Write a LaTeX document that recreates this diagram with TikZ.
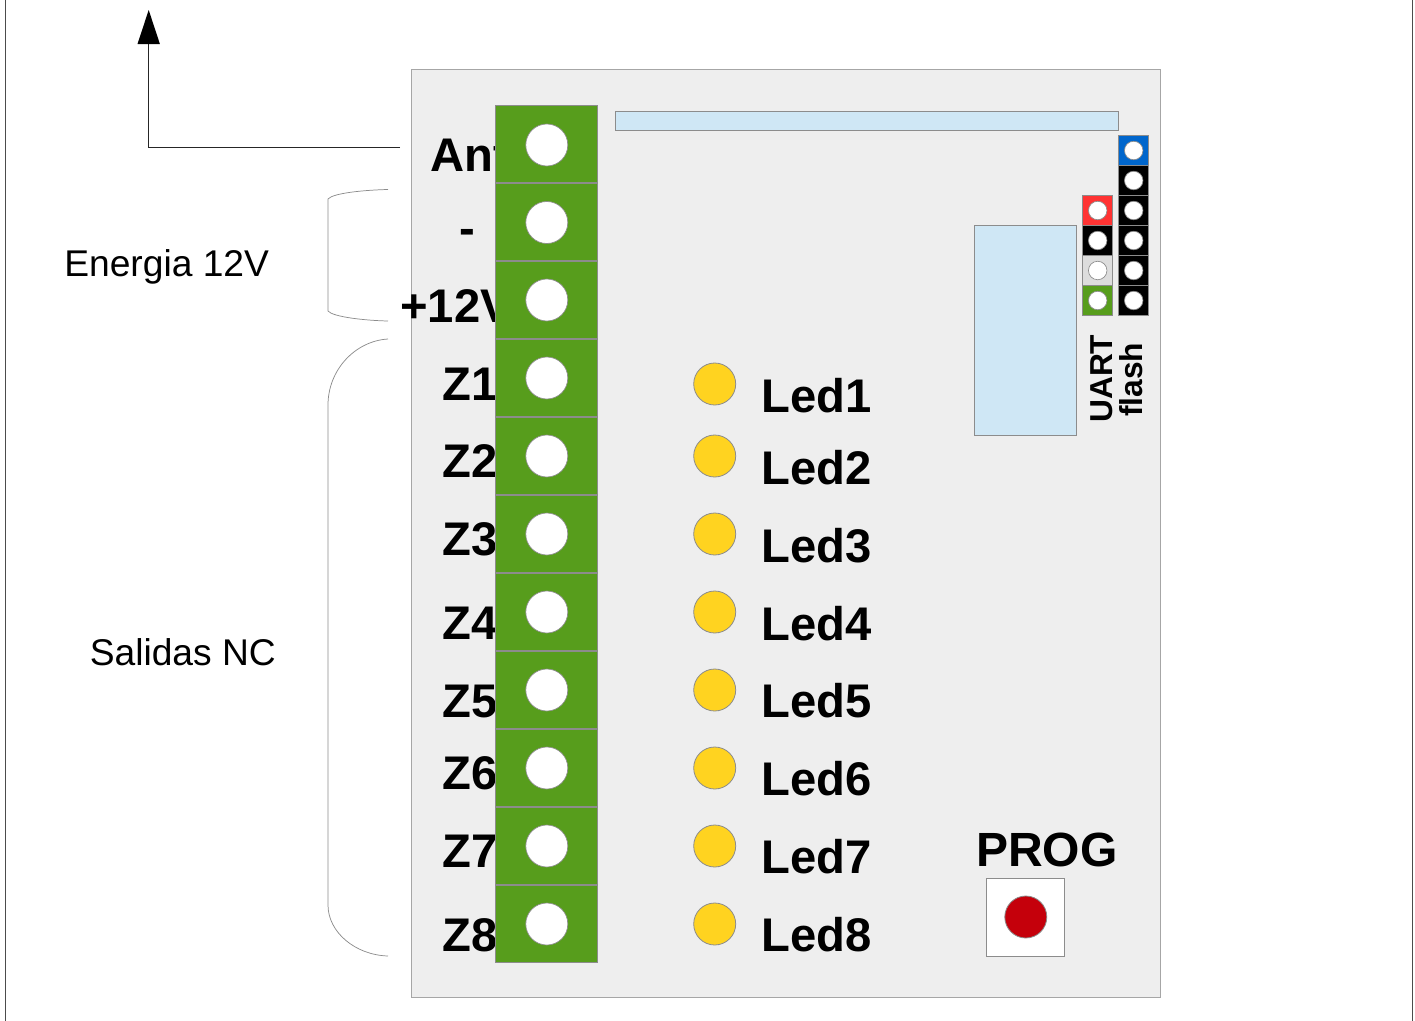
\documentclass[tikz,border=0pt]{standalone}
\usepackage{fontspec}
\setmainfont{Liberation Sans}
\definecolor{boardfill}{HTML}{EEEEEE}
\definecolor{edgegrey}{HTML}{8C8C8C}
\definecolor{boardedge}{HTML}{A6A6A6}
\definecolor{termgreen}{HTML}{579D1C}
\definecolor{paleblue}{HTML}{CFE7F5}
\definecolor{ledyellow}{HTML}{FFD320}
\definecolor{pinblue}{HTML}{0066CC}
\definecolor{pinred}{HTML}{FF3333}
\definecolor{pinlight}{HTML}{DDDDDD}
\definecolor{btnred}{HTML}{C5000B}
\tikzset{
  x=0.75pt,y=-0.75pt,
  part/.style={draw=edgegrey,line width=0.55pt},
  hole/.style={circle,draw=edgegrey,fill=white,line width=0.5pt,minimum size=#1*0.75pt,inner sep=0pt},
  led/.style={circle,draw=edgegrey,fill=ledyellow,line width=0.6pt,minimum size=42*0.75pt,inner sep=0pt},
  biglabel/.style={font=\fontsize{35.4}{40}\selectfont\bfseries,anchor=base west,inner sep=0pt},
  smalllabel/.style={font=\fontsize{23.8}{28}\selectfont\bfseries,anchor=base west,inner sep=0pt,rotate=90},
  notelabel/.style={font=\fontsize{27.9}{32}\selectfont,anchor=base west,inner sep=0pt},
  bracket/.style={draw=edgegrey,line width=0.55pt},
}
\begin{document}
\begin{tikzpicture}
\useasboundingbox (0,0) rectangle (1415,1021);
% page frame
\draw[color=black!70,line width=0.9pt] (5.5,0) -- (5.5,1021);
\draw[color=black!70,line width=0.9pt] (1412.5,0) -- (1412.5,1021);
% board
\fill[boardfill] (411.9,69.9) rectangle (1160.9,997.9);
\draw[boardedge,line width=0.75pt] (411.9,69.9) rectangle (1160.9,997.9);
% terminal labels (overlapped by the terminal block)
\node[biglabel] (lant) at (430,171.5) {Ant};
\node[biglabel] (lminus) at (459,244.5) {-};
\node[biglabel] (lv) at (400,322) {+12V};
\foreach \n/\y in {1/400,2/477.5,3/555.5,4/639.5,5/717,6/789.5,7/867,8/951}
  \node[biglabel] (lz\n) at (442,\y) {Z\n};
% terminal block
\foreach \i/\t/\c in {0/105/145,1/183/222.5,2/261/300,3/339/378,4/417/456,5/495/534,6/573/612,7/651/690,8/729/768,9/807/846,10/885/924}{
  \draw[part,fill=termgreen] (495.7,\t) rectangle (597.7,\t+77.4);
  \node[hole=42] (t\i) at (546.8,\c) {};
}
% bars
\draw[part,fill=paleblue] (615.5,111.5) rectangle (1118.5,130);
\draw[part,fill=paleblue] (974.8,225.5) rectangle (1076.8,435);
% flash header
\foreach \i/\t/\c in {0/135.5/pinblue,1/165.5/black,2/195.5/black,3/225.5/black,4/255.5/black,5/285.5/black}{
  \draw[part,fill=\c] (1118.7,\t) rectangle (1148.7,\t+30);
  \node[hole=18.5] (f\i) at (1133.7,\t+15) {};
}
% uart header
\foreach \i/\t/\c in {0/195.5/pinred,1/225.5/black,2/255.5/pinlight,3/285.5/termgreen}{
  \draw[part,fill=\c] (1082.7,\t) rectangle (1112.7,\t+30);
  \node[hole=18.5] (u\i) at (1097.7,\t+15) {};
}
\node[smalllabel] (uart) at (1112.2,423) {UART};
\node[smalllabel] (flash) at (1142.2,417) {flash};
% leds
\foreach \n/\yc/\yb in {1/384/412,2/456/484,3/534/562,4/612/640,5/690/717,6/768/795,7/846/873,8/924/951}{
  \node[led] (led\n) at (714.7,\yc) {};
  \node[biglabel] (ll\n) at (761,\yb) {Led\n};
}
% prog button
\node[biglabel,font=\fontsize{36}{40}\selectfont\bfseries] (prog) at (976,866.5) {PROG};
\draw[part,fill=white] (986.8,878) rectangle (1064.8,956);
\node[circle,draw=edgegrey,fill=btnred,line width=0.6pt,minimum size=42*0.75pt,inner sep=0pt] (btn) at (1025.8,917) {};
% antenna connector
\coordinate (astart) at (400,147.5);
\coordinate (acorner) at (148.7,147.5);
\coordinate (atip) at (148.7,44);
\draw[black!85,line width=0.75pt] (astart) -- (acorner) -- (atip);
\fill[black] (148.7,10) -- (159.9,44) -- (137.5,44) -- cycle;
% braces
\draw[bracket] (388,189.5) .. controls (365,190) and (333,193) .. (328,199) -- (328,311) .. controls (333,317) and (365,320.5) .. (388,321);
\draw[bracket] (388,339) .. controls (355,341) and (328,370) .. (328,405) -- (328,905) .. controls (328,932) and (355,955) .. (388,956);
% notes
\node[notelabel] (energia) at (64,276) {Energia 12V};
\node[notelabel] (salidas) at (89.5,665) {Salidas NC};
\end{tikzpicture}
\end{document}
